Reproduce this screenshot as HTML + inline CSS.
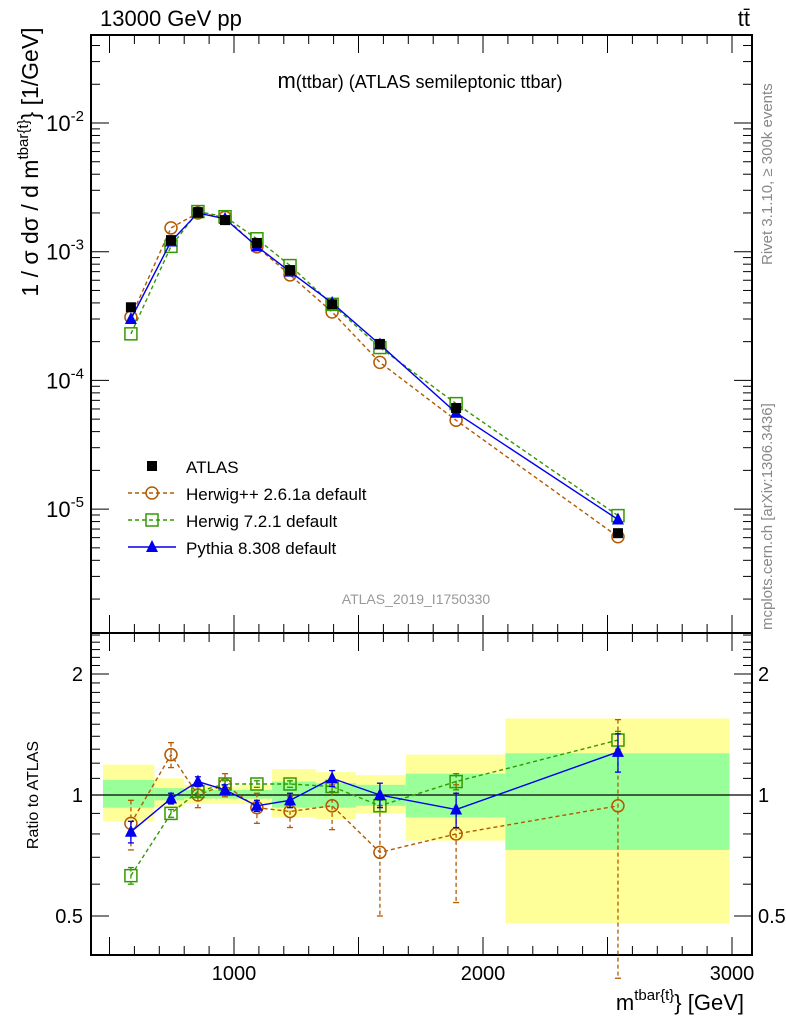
<!DOCTYPE html>
<html><head><meta charset="utf-8">
<style>
body{margin:0;background:#fff;}
svg text{font-family:"Liberation Sans",sans-serif;}
</style></head>
<body>
<svg id="c" width="786" height="1024" xmlns="http://www.w3.org/2000/svg"></svg>
<script>
const xCenters=[586,747,855,964,1092,1225,1394,1586,1892,2542];
const binEdges=[474,680,800,912,1024,1153,1330,1490,1690,2090,2990];
const atlas=[3.7e-4,1.23e-3,2.03e-3,1.76e-3,1.17e-3,7.2e-4,3.9e-4,1.92e-4,6.1e-5,6.5e-6];
const herwigpp=[3.1e-4,1.53e-3,2.0e-3,1.85e-3,1.09e-3,6.6e-4,3.4e-4,1.38e-4,4.9e-5,6.1e-6];
const herwig7=[2.3e-4,1.1e-3,2.05e-3,1.87e-3,1.26e-3,7.8e-4,3.9e-4,1.8e-4,6.6e-5,8.9e-6];
const pythia=[3.0e-4,1.2e-3,2.0e-3,1.8e-3,1.1e-3,7.0e-4,4.0e-4,1.9e-4,5.6e-5,8.3e-6];
const rHpp=[0.85,1.26,1.0,1.06,0.93,0.91,0.94,0.72,0.8,0.94];
const rHppErr=[0.12,0.09,0.07,0.07,0.08,0.08,0.12,0.22,0.26,0.6];
const rH7=[0.63,0.9,1.02,1.065,1.065,1.065,1.05,0.94,1.08,1.37];
const rH7Err=[0.03,0.02,0.03,0.02,0.02,0.02,0.03,0.03,0.05,0.07];
const rPy=[0.81,0.98,1.08,1.03,0.94,0.97,1.1,1.0,0.92,1.28];
const rPyErr=[0.05,0.03,0.03,0.03,0.03,0.04,0.05,0.07,0.09,0.14];
const yelUp=[1.19,1.1,1.06,1.05,1.06,1.16,1.14,1.12,1.26,1.55];
const yelDn=[0.86,0.93,0.95,0.95,0.95,0.88,0.87,0.9,0.77,0.48];
const grnUp=[1.09,1.04,1.03,1.03,1.03,1.08,1.07,1.06,1.13,1.27];
const grnDn=[0.93,0.97,0.98,0.98,0.98,0.93,0.93,0.94,0.88,0.73];
const xTicks=[1000,2000,3000];

const S=document.getElementById('c');const NS='http://www.w3.org/2000/svg';
function el(t,a,p){const e=document.createElementNS(NS,t);for(const k in a)e.setAttribute(k,a[k]);(p||S).appendChild(e);return e;}
const L=91,R=752,T=35,M=633,B=955;
const X=v=>-15+v*0.249;
const Y=v=>123-(Math.log10(v)+2)*128.7;
const YR=v=>795-Math.log2(v)*121;
for(let i=0;i<10;i++){
 const x1=X(binEdges[i]),x2=X(binEdges[i+1]);
 let r=el('rect',{x:x1,y:YR(yelUp[i]),width:x2-x1,height:YR(yelDn[i])-YR(yelUp[i]),fill:'#ffff99'});
 
 r=el('rect',{x:x1,y:YR(grnUp[i]),width:x2-x1,height:YR(grnDn[i])-YR(grnUp[i]),fill:'#99ff99'});
 
}
el('line',{x1:L,x2:R,y1:YR(1),y2:YR(1),stroke:'#000','stroke-width':1.3});
el('rect',{x:L,y:T,width:R-L,height:M-T,fill:'none',stroke:'#000','stroke-width':2});
el('rect',{x:L,y:M,width:R-L,height:B-M,fill:'none',stroke:'#000','stroke-width':2});
for(let v=500;v<=3000;v+=100){const x=X(v);if(x<L||x>R)continue;const big=v%500==0;const h=big?18:9;
 for(const [y0,d] of [[T,1],[M,-1],[M,1],[B,-1]]) el('line',{x1:x,x2:x,y1:y0,y2:y0+d*h,stroke:'#000','stroke-width':1});}
xTicks.forEach(v=>{const t=el('text',{x:X(v),y:980,'font-size':20,'text-anchor':'middle'});t.textContent=v;
 });
for(let d=-6;d<=-1;d++){for(let m=1;m<10;m++){const v=m*Math.pow(10,d);const y=Y(v);if(y<T||y>M)continue;const h=m==1?18:9;
 el('line',{x1:L,x2:L+h,y1:y,y2:y,stroke:'#000'});el('line',{x1:R,x2:R-h,y1:y,y2:y,stroke:'#000'});}}
[-2,-3,-4,-5].forEach(d=>{const t=el('text',{x:84,y:Y(Math.pow(10,d))+8,'font-size':22,'text-anchor':'end'});
 t.innerHTML='10<tspan font-size="15" dy="-10">'+d+'</tspan>';});
[0.5,0.6,0.7,0.8,0.9,1,1.1,1.2,1.3,1.4,1.5,1.6,1.7,1.8,1.9,2,2.1,2.2,2.3,2.4,2.5].forEach(v=>{const y=YR(v);if(y<M||y>B)return;const big=(v==0.5||v==1||v==2);const h=big?18:9;
 el('line',{x1:L,x2:L+h,y1:y,y2:y,stroke:'#000'});el('line',{x1:R,x2:R-h,y1:y,y2:y,stroke:'#000'});});
[[0.5,'0.5'],[1,'1'],[2,'2']].forEach(([v,s])=>{for(const [x,a] of [[83,'end'],[758,'start']]){const t=el('text',{x:x,y:YR(v)+7,'font-size':20,'text-anchor':a});t.textContent=s;
 }});
function marker(type,x,y,col,g){
 if(type=='sq'&&col=='#000')return el('rect',{x:x-5,y:y-5,width:10,height:10,fill:'#000'},g);
 if(type=='c')return el('circle',{cx:x,cy:y,r:6,fill:'none',stroke:col,'stroke-width':1.5},g);
 if(type=='sq')return el('rect',{x:x-6,y:y-6,width:12,height:12,fill:'none',stroke:col,'stroke-width':1.5},g);
 return el('polygon',{points:`${x},${y-7} ${x-6},${y+5} ${x+6},${y+5}`,fill:col},g);
}
function series(name,vals,fy,col,type,dash,errs){
 const g=el('g',{});
 if(col!='#000'||dash!==null){const pts=vals.map((v,i)=>X(xCenters[i])+','+fy(v)).join(' ');
  el('polyline',{points:pts,fill:'none',stroke:col,'stroke-width':1.4,'stroke-dasharray':dash||'none'},g);}
 vals.forEach((v,i)=>{const x=X(xCenters[i]);
  if(errs){const y1=fy(v+errs[i]),y2=fy(Math.max(v-errs[i],0.35));
   el('line',{x1:x,x2:x,y1:y1,y2:y2,stroke:col,'stroke-width':1.3,'stroke-dasharray':dash||'none'},g);
   el('line',{x1:x-3,x2:x+3,y1:y1,y2:y1,stroke:col,'stroke-width':1.3},g);el('line',{x1:x-3,x2:x+3,y1:y2,y2:y2,stroke:col,'stroke-width':1.3},g);}
  const m=marker(type,x,fy(v),col,g);});
}
series('herwigpp-series',herwigpp,Y,'#b35900','c','4,3');
series('herwig7-series',herwig7,Y,'#339900','sq','4,3');
series('pythia-series',pythia,Y,'#0000ee','t','');
series('atlas-data',atlas,Y,'#000','sq',null);
series('herwigpp-ratio',rHpp,YR,'#b35900','c','4,3',rHppErr);
series('herwig7-ratio',rH7,YR,'#339900','sq','4,3',rH7Err);
series('pythia-ratio',rPy,YR,'#0000ee','t','',rPyErr);
function tx(s,a,name){const t=el('text',a);t.innerHTML=s;return t;}
tx('13000 GeV pp',{x:100,y:26,'font-size':22},'beam-label');
tx('tt̄',{x:750,y:26,'font-size':22,'text-anchor':'end'},'process-label');
tx('<tspan font-size="22">m</tspan>(ttbar) (ATLAS semileptonic ttbar)',{x:420,y:88,'font-size':18,'text-anchor':'middle'},'plot-title');
tx('ATLAS_2019_I1750330',{x:416,y:604,'font-size':14,fill:'#999','text-anchor':'middle'},'analysis-id');
tx('Rivet 3.1.10, ≥ 300k events',{x:0,y:0,'font-size':15,fill:'#888',transform:'translate(772,265) rotate(-90)'},'rivet-label');
tx('mcplots.cern.ch [arXiv:1306.3436]',{x:0,y:0,'font-size':15,fill:'#888',transform:'translate(772,630) rotate(-90)'},'mcplots-label');
tx('1 / σ dσ / d m<tspan font-size="15" dy="-10">tbar{t}</tspan><tspan dy="10">} [1/GeV]</tspan>',{x:0,y:0,'font-size':23,transform:'translate(38,162) rotate(-90)','text-anchor':'middle'},'y-axis-title');
tx('Ratio to ATLAS',{x:0,y:0,'font-size':16,transform:'translate(38,795) rotate(-90)','text-anchor':'middle'},'ratio-axis-title');
tx('m<tspan font-size="15" dy="-10">tbar{t}</tspan><tspan dy="10">} [GeV]</tspan>',{x:744,y:1010,'font-size':22,'text-anchor':'end'},'x-axis-title');
const leg=[['ATLAS','#000','sq',null],['Herwig++ 2.6.1a default','#b35900','c','4,3'],['Herwig 7.2.1 default','#339900','sq','4,3'],['Pythia 8.308 default','#0000ee','t','']];
leg.forEach((e,i)=>{const y=466+i*27;const g=el('g',{});
 if(e[3]!==null)el('line',{x1:128,x2:176,y1:y,y2:y,stroke:e[1],'stroke-width':1.4,'stroke-dasharray':e[3]||'none'},g);
 marker(e[2],152,y,e[1],g);const t=el('text',{x:186,y:y+7,'font-size':17},g);t.textContent=e[0];});
</script>
</body></html>
